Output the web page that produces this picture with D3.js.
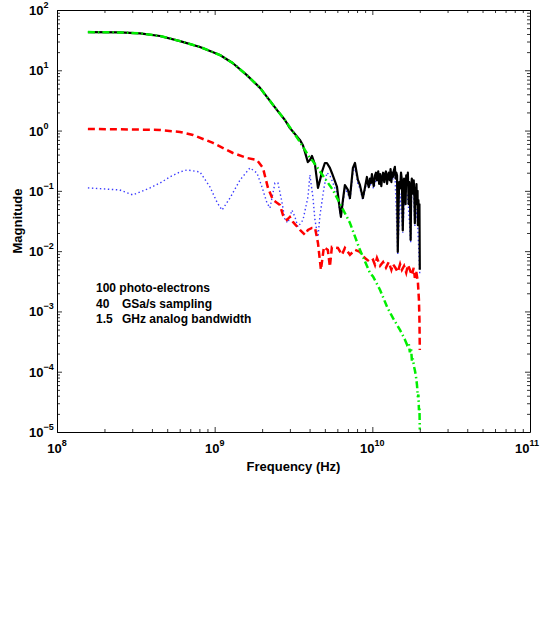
<!DOCTYPE html>
<html>
<head>
<meta charset="utf-8">
<script src="https://cdnjs.cloudflare.com/ajax/libs/d3/7.8.5/d3.min.js"></script>
<style>
  body { margin: 0; background: #fff; }
  text { font-family: "Liberation Sans", Arial, Helvetica, sans-serif; }
</style>
</head>
<body>
<div id="chart"></div>
<script>
// ---------------------------------------------------
// DATOS (frecuencia en GHz, magnitud)
// ---------------------------------------------------

// total (línea negra continua)
var totalFreq = [0.157, 0.25, 0.336, 0.45, 0.603, 0.807, 1.08, 1.30, 1.60, 1.94, 2.48, 2.79, 3.0, 3.47, 3.63, 3.74, 3.90, 4.02, 4.14, 4.33, 4.52, 4.66, 4.79, 5.0, 5.15, 5.38, 5.54, 5.97, 6.23, 6.32, 6.51, 6.70, 7.0, 7.21, 7.53, 7.76, 8.1, 8.34, 8.71, 8.97, 9.24, 9.38, 9.5, 9.66, 9.81, 9.94, 10.1, 10.2, 10.4, 10.55, 10.7, 10.9, 11.05, 11.2, 11.4, 11.55, 11.7, 11.9, 12.05, 12.2, 12.4, 12.55, 12.7, 12.9, 13.05, 13.2, 13.35, 13.5, 13.7, 13.9, 14.05, 14.2, 14.35, 14.5, 14.65, 14.8, 15.0, 15.2, 15.4, 15.6, 15.75, 15.9, 16.1, 16.25, 16.4, 16.6, 16.8, 17.0, 17.15, 17.3, 17.5, 17.65, 17.8, 17.95, 18.1, 18.3, 18.45, 18.6, 18.75, 18.9, 19.05, 19.2, 19.35, 19.45, 19.6, 19.75, 19.9, 20.0];
var totalMag = [43, 42.5, 41, 37, 30.5, 24.4, 17.9, 13.2, 8.3, 5.1, 2.2, 1.5, 1.1, 0.70, 0.57, 0.44, 0.30, 0.325, 0.38, 0.27, 0.112, 0.152, 0.206, 0.29, 0.29, 0.24, 0.198, 0.116, 0.048, 0.037, 0.071, 0.125, 0.104, 0.076, 0.24, 0.29, 0.152, 0.125, 0.076, 0.112, 0.17, 0.13, 0.115, 0.16, 0.135, 0.19, 0.14, 0.12, 0.18, 0.2, 0.15, 0.21, 0.13, 0.19, 0.12, 0.17, 0.2, 0.14, 0.19, 0.21, 0.13, 0.18, 0.2, 0.15, 0.23, 0.14, 0.2, 0.17, 0.22, 0.25, 0.16, 0.2, 0.18, 0.0097, 0.05, 0.14, 0.11, 0.2, 0.15, 0.022, 0.09, 0.16, 0.12, 0.06, 0.18, 0.13, 0.2, 0.06, 0.14, 0.1, 0.0153, 0.11, 0.16, 0.12, 0.09, 0.15, 0.1, 0.029, 0.11, 0.08, 0.13, 0.06, 0.1, 0.027, 0.07, 0.04, 0.06, 0.0049];

// modelo del pulso (verde, punto-raya)
var modelFreq = [0.157, 0.25, 0.336, 0.45, 0.603, 0.807, 1.08, 1.30, 1.60, 1.94, 2.48, 2.79, 3.47, 4.02, 4.20, 5.62, 7.21, 8.34, 9.66, 10.1, 11.2, 12.4, 13.5, 15.0, 16.1, 16.6, 17.0, 17.3, 17.6, 17.8, 18.1, 18.4, 18.6, 18.9, 19.2, 19.45, 19.6, 19.75, 19.9, 20.0];
var modelMag = [43, 42.5, 41, 37, 30.5, 24.4, 17.9, 13.2, 8.3, 5.1, 2.2, 1.5, 0.65, 0.35, 0.31, 0.1035, 0.0294, 0.0105, 0.00435, 0.0038, 0.00227, 0.00119, 7.8e-4, 4.9e-4, 3.4e-4, 2.8e-4, 3.0e-4, 2.1e-4, 2.5e-4, 1.6e-4, 1.6e-4, 1.2e-4, 1.07e-4, 8.5e-5, 6.0e-5, 3.8e-5, 4.2e-5, 2.3e-5, 2.6e-5, 1.1e-5];

// ruido de fotoelectrones (rojo, discontinua)
var shotFreq = [0.157, 0.25, 0.45, 0.603, 0.729, 0.976, 1.306, 1.603, 1.855, 2.024, 2.178, 2.343, 2.594, 2.71, 2.873, 3.0, 3.137, 3.475, 3.738, 3.905, 4.14, 4.33, 4.52, 4.72, 4.93, 5.22, 5.38, 5.54, 6.05, 6.41, 6.70, 7.21, 7.76, 8.34, 8.97, 9.66, 10.1, 10.4, 10.7, 11.2, 11.7, 12.2, 12.7, 13.2, 13.5, 14.0, 14.5, 15.0, 15.4, 15.9, 16.4, 16.8, 17.3, 17.8, 18.3, 18.6, 19.0, 19.45, 19.75, 19.9, 20.0];
var shotMag = [1.064, 1.05, 1.023, 0.948, 0.845, 0.623, 0.425, 0.351, 0.325, 0.24, 0.112, 0.0707, 0.0584, 0.0398, 0.0329, 0.0369, 0.0305, 0.0225, 0.0186, 0.0225, 0.0243, 0.0243, 0.0137, 0.0049, 0.0117, 0.0105, 0.0055, 0.0117, 0.0113, 0.0087, 0.0113, 0.0087, 0.0105, 0.0097, 0.0077, 0.0066, 0.0072, 0.0059, 0.0077, 0.0057, 0.0066, 0.0053, 0.0066, 0.0049, 0.0061, 0.0053, 0.0045, 0.0061, 0.0049, 0.0057, 0.0044, 0.0059, 0.0049, 0.0040, 0.0053, 0.0036, 0.0045, 0.0031, 0.00155, 7.2e-4, 2.3e-4];

// ruido electrónico (azul, punteada)
var elecFreq = [0.157, 0.25, 0.303, 0.389, 0.45, 0.52, 0.603, 0.667, 0.807, 0.934, 1.04, 1.113, 1.25, 1.45, 1.674, 1.855, 1.995, 2.147, 2.243, 2.412, 2.519, 2.671, 2.791, 2.916, 3.092, 3.228, 3.374, 3.631, 3.905, 4.018, 4.198, 4.325, 4.519, 4.66, 4.93, 5.15, 5.38, 5.54, 5.97, 6.23, 6.51, 6.70, 7.0, 7.21, 7.53, 7.76, 8.1, 8.34, 8.71, 9.24, 9.66, 10.2, 10.7, 11.2, 11.7, 12.2, 12.9, 13.5, 13.9, 14.5, 15.0, 15.6, 16.1, 16.6, 17.0, 17.5, 17.8, 18.3, 18.6, 19.2, 19.45, 20.0];
var elecMag = [0.112, 0.1035, 0.0855, 0.112, 0.135, 0.17, 0.206, 0.222, 0.206, 0.116, 0.063, 0.048, 0.076, 0.152, 0.24, 0.198, 0.116, 0.063, 0.052, 0.135, 0.135, 0.0655, 0.0329, 0.0294, 0.048, 0.037, 0.0252, 0.0329, 0.079, 0.184, 0.079, 0.0329, 0.0172, 0.040, 0.11, 0.2, 0.18, 0.15, 0.09, 0.045, 0.06, 0.11, 0.09, 0.07, 0.2, 0.25, 0.13, 0.11, 0.07, 0.15, 0.13, 0.11, 0.17, 0.16, 0.16, 0.17, 0.19, 0.16, 0.2, 0.009, 0.09, 0.02, 0.11, 0.09, 0.05, 0.014, 0.11, 0.09, 0.026, 0.05, 0.024, 0.004];

var decadesX = [1e8, 1e9, 1e10, 1e11];
var expX = ["8", "9", "10", "11"];
var decadesY = [1e-5, 1e-4, 1e-3, 1e-2, 1e-1, 1e0, 1e1, 1e2];
var expY = ["\u22125", "\u22124", "\u22123", "\u22122", "\u22121", "0", "1", "2"];

var notes = [["100 photo-electrons", ""], ["40", "GSa/s sampling"], ["1.5", "GHz analog bandwidth"]];

// ---------------------------------------------------
// LIENZO Y ESCALAS
// ---------------------------------------------------
var width = 540, height = 629;
var mLeft = 57, mRight = 530, mTop = 10, mBottom = 432;

var svg = d3.select("#chart").append("svg")
    .attr("width", width)
    .attr("height", height)
    .style("background", "#fff");

var x = d3.scaleLog().domain([1e8, 1e11]).range([mLeft, mRight]);
var y = d3.scaleLog().domain([1e-5, 1e2]).range([mBottom, mTop]);

var isMajor = v => Math.abs(Math.log10(v) - Math.round(Math.log10(v))) < 1e-6;
var minorX = x.ticks().filter(v => !isMajor(v));
var minorY = y.ticks().filter(v => !isMajor(v));

// ---------------------------------------------------
// CURVAS
// ---------------------------------------------------
function zip(fs, ms) { return fs.map((f, i) => [f * 1e9, ms[i]]); }

var line = d3.line()
    .x(d => x(d[0]))
    .y(d => y(d[1]));

var plot = svg.append("g");

plot.append("path")
    .attr("d", line(zip(elecFreq, elecMag)))
    .attr("fill", "none")
    .attr("stroke", "#3a3aff")
    .attr("stroke-width", 1.4)
    .attr("stroke-dasharray", "1.4,2.6");

plot.append("path")
    .attr("d", line(zip(totalFreq, totalMag)))
    .attr("fill", "none")
    .attr("stroke", "#000")
    .attr("stroke-width", 2.2)
    .attr("stroke-linejoin", "round");

plot.append("path")
    .attr("d", line(zip(shotFreq, shotMag)))
    .attr("fill", "none")
    .attr("stroke", "#ff0000")
    .attr("stroke-width", 2.5)
    .attr("stroke-dasharray", "7,4");

plot.append("path")
    .attr("d", line(zip(modelFreq, modelMag)))
    .attr("fill", "none")
    .attr("stroke", "#00ee00")
    .attr("stroke-width", 2.5)
    .attr("stroke-dasharray", "7,3,1.5,3");

// ---------------------------------------------------
// EJES (ticks hacia dentro en los cuatro lados)
// ---------------------------------------------------
function ticks(axis, vals, size, tx, ty, domain) {
    var g = svg.append("g")
        .attr("transform", "translate(" + tx + "," + ty + ")")
        .call(axis.tickValues(vals).tickSize(-size).tickSizeOuter(0).tickFormat(""));
    g.selectAll(".tick line").attr("stroke", "#000").attr("stroke-width", 0.8);
    if (!domain) g.select(".domain").remove();
    else g.select(".domain").attr("stroke", "#000").attr("stroke-width", 1);
}
ticks(d3.axisBottom(x), decadesX, 5, 0, mBottom, true);
ticks(d3.axisBottom(x), minorX, 3, 0, mBottom, false);
ticks(d3.axisTop(x), decadesX, 5, 0, mTop, true);
ticks(d3.axisTop(x), minorX, 3, 0, mTop, false);
ticks(d3.axisLeft(y), decadesY, 5, mLeft, 0, true);
ticks(d3.axisLeft(y), minorY, 3, mLeft, 0, false);
ticks(d3.axisRight(y), decadesY, 5, mRight, 0, true);
ticks(d3.axisRight(y), minorY, 3, mRight, 0, false);

// etiquetas 10^n
decadesX.forEach(function (v, i) {
    var t = svg.append("text")
        .attr("x", x(v) - (i == 3 ? 3 : 0))
        .attr("y", mBottom + 21)
        .attr("text-anchor", "middle")
        .attr("font-size", 13)
        .attr("font-weight", "bold");
    t.append("tspan").text("10");
    t.append("tspan").attr("dy", -7).attr("font-size", 9).text(expX[i]);
});
decadesY.forEach(function (v, i) {
    var t = svg.append("text")
        .attr("x", 29)
        .attr("y", y(v) + 5)
        .attr("font-size", 13)
        .attr("font-weight", "bold");
    t.append("tspan").text("10");
    t.append("tspan").attr("dy", -7).attr("font-size", 9).text(expY[i]);
});

// títulos de ejes
svg.append("text")
    .attr("x", (mLeft + mRight) / 2)
    .attr("y", 471)
    .attr("text-anchor", "middle")
    .attr("font-size", 13)
    .attr("font-weight", "bold")
    .text("Frequency (Hz)");
svg.append("text")
    .attr("transform", "translate(22," + ((mTop + mBottom) / 2) + ") rotate(-90)")
    .attr("text-anchor", "middle")
    .attr("font-size", 13)
    .attr("font-weight", "bold")
    .text("Magnitude");

// ---------------------------------------------------
// ANOTACIONES
// ---------------------------------------------------
notes.forEach(function (n, i) {
    svg.append("text")
        .attr("x", 96)
        .attr("y", 292 + i * 15.5)
        .attr("font-size", 12)
        .attr("font-weight", "bold")
        .text(n[0]);
    svg.append("text")
        .attr("x", 122)
        .attr("y", 292 + i * 15.5)
        .attr("font-size", 12)
        .attr("font-weight", "bold")
        .text(n[1]);
});
</script>
</body>
</html>
